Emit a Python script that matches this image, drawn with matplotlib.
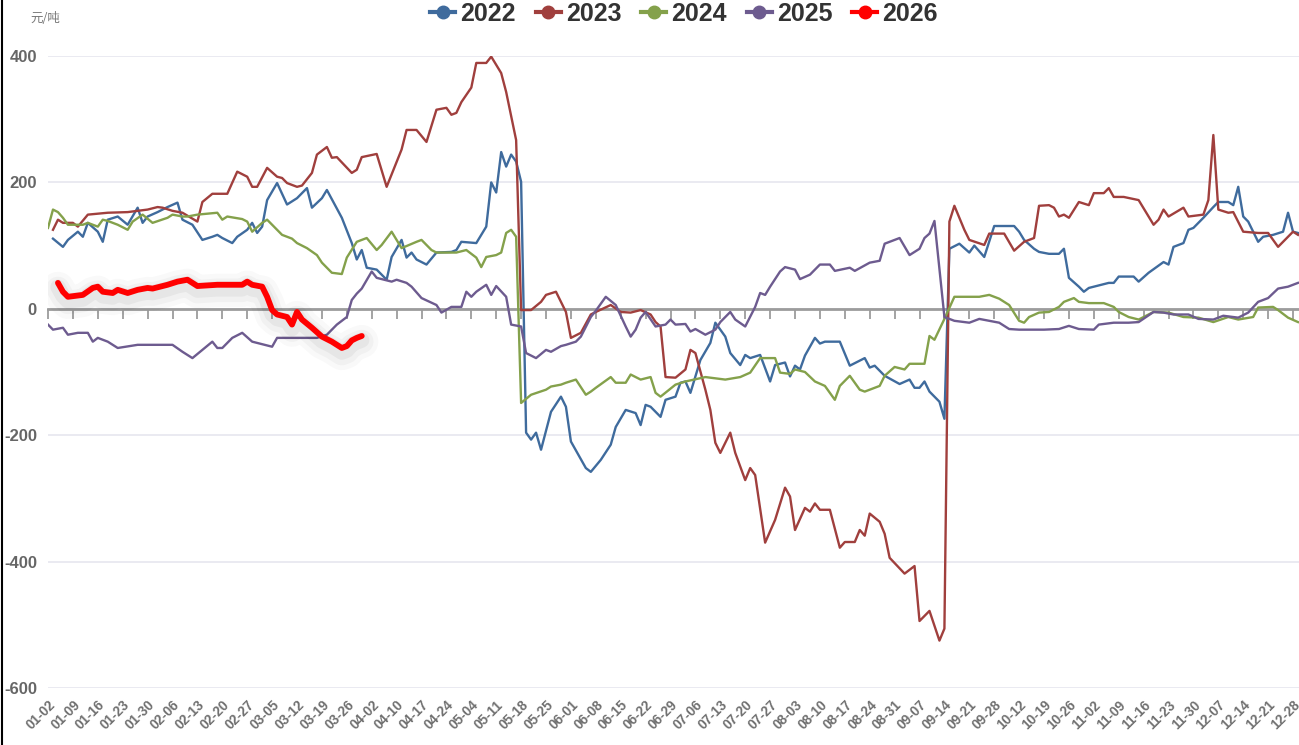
import matplotlib
matplotlib.use("Agg")
import matplotlib.pyplot as plt
from matplotlib.lines import Line2D
from matplotlib import patheffects as pe

plt.rcParams['font.family'] = ['Liberation Sans', 'Noto Sans CJK SC', 'DejaVu Sans']

# x axis: trading-day index, one label every 5 days
tick_labels = ["01-02", "01-09", "01-16", "01-23", "01-30", "02-06", "02-13", "02-20", "02-27",
               "03-05", "03-12", "03-19", "03-26", "04-02", "04-10", "04-17", "04-24", "05-04",
               "05-11", "05-18", "05-25", "06-01", "06-08", "06-15", "06-22", "06-29", "07-06",
               "07-13", "07-20", "07-27", "08-03", "08-10", "08-17", "08-24", "08-31", "09-07",
               "09-14", "09-21", "09-28", "10-12", "10-19", "10-26", "11-02", "11-09", "11-16",
               "11-23", "11-30", "12-07", "12-14", "12-21", "12-28"]
tick_step = 5

y_ticks = [-600, -400, -200, 0, 200, 400]
y_tick_labels = ["-600", "-400", "-200", "0", "200", "400"]

# 2022
d22_x = [1, 3, 4, 6, 7, 8, 10, 11, 12, 14, 16, 18, 19, 20, 22, 24, 26, 27, 29, 31, 33, 34, 35, 37, 38,
         40, 41, 42, 43, 44, 46, 48, 50, 52, 53, 55, 56, 59, 61, 62, 63, 64, 66, 68, 69, 71, 72, 73, 74,
         76, 78, 81, 82, 83, 86, 88, 89, 90, 91, 92, 93, 94, 95, 96, 97, 98, 99, 101, 103, 104, 105,
         108, 109, 111, 113, 114, 116, 118, 119, 120, 121, 123, 124, 126, 127, 128, 129, 131, 133, 134,
         136, 137, 139, 140, 141, 143, 145, 146, 148, 149, 150, 151, 152, 154, 155, 156, 159, 161, 164,
         165, 166, 168, 171, 173, 174, 175, 176, 177, 179, 180, 181, 183, 185, 186, 188, 190, 194, 195,
         196, 198, 199, 201, 203, 204, 205, 207, 208, 209, 213, 214, 215, 218, 219, 221, 224, 225, 226,
         228, 229, 230, 232, 234, 235, 237, 238, 239, 240, 241, 243, 244, 246, 248, 249, 250, 251]
d22_y = [111, 98, 109, 122, 114, 136, 122, 106, 141, 146, 133, 160, 136, 146, 153, 161, 168, 141, 133,
         109, 114, 117, 112, 104, 114, 125, 136, 120, 130, 172, 199, 165, 175, 191, 160, 175, 188, 144,
         104, 78, 93, 65, 62, 46, 82, 109, 81, 89, 78, 70, 89, 90, 93, 106, 104, 130, 200, 184, 248, 225,
         244, 233, 201, -196, -207, -196, -223, -163, -139, -155, -210, -252, -258, -239, -215, -187,
         -160, -165, -184, -152, -155, -171, -144, -139, -117, -115, -133, -81, -54, -22, -44, -70, -89,
         -73, -78, -73, -115, -89, -85, -107, -90, -96, -74, -46, -55, -52, -52, -90, -78, -93, -90,
         -106, -119, -112, -125, -125, -115, -131, -147, -174, 95, 103, 89, 100, 82, 131, 131, 122, 109,
         95, 90, 87, 87, 95, 49, 35, 27, 33, 41, 41, 51, 51, 43, 57, 74, 70, 98, 104, 125, 128, 144, 161,
         169, 169, 164, 193, 146, 138, 106, 114, 117, 122, 152, 122, 120]

# 2023
d23_x = [1, 2, 3, 5, 6, 8, 12, 16, 20, 22, 23, 25, 27, 30, 31, 33, 36, 38, 40, 41, 42, 44, 46, 47, 48,
         50, 51, 53, 54, 56, 57, 58, 61, 62, 63, 66, 68, 71, 72, 74, 76, 78, 80, 81, 82, 83, 85, 86, 88,
         89, 91, 92, 94, 95, 97, 99, 100, 102, 104, 105, 107, 109, 110, 113, 115, 117, 119, 121, 122,
         123, 124, 126, 128, 129, 130, 132, 133, 134, 135, 137, 138, 140, 141, 142, 144, 146, 148, 149,
         150, 152, 153, 154, 155, 157, 159, 160, 162, 163, 164, 165, 167, 168, 169, 172, 174, 175, 177,
         179, 180, 181, 182, 184, 185, 188, 189, 192, 194, 196, 198, 199, 201, 202, 203, 204, 205, 207,
         209, 210, 212, 213, 214, 216, 219, 222, 223, 224, 225, 228, 229, 232, 233, 234, 235, 237, 238,
         240, 243, 245, 247, 250, 251]
d23_y = [125, 141, 136, 136, 130, 149, 152, 153, 157, 161, 160, 155, 152, 138, 169, 182, 182, 217, 209,
         193, 193, 223, 209, 207, 199, 193, 195, 215, 244, 256, 239, 240, 215, 220, 240, 245, 193, 252,
         283, 283, 264, 315, 318, 307, 310, 327, 350, 389, 389, 399, 373, 343, 267, -2, -2, 11, 22, 27,
         -5, -46, -38, -9, -5, 6, -5, -6, -2, -9, -21, -28, -108, -109, -96, -65, -70, -128, -160, -212,
         -228, -196, -228, -271, -252, -263, -370, -334, -283, -297, -350, -315, -321, -308, -318, -318,
         -378, -369, -369, -350, -359, -324, -337, -356, -394, -419, -407, -494, -478, -525, -506, 138,
         163, 125, 109, 101, 119, 119, 92, 106, 112, 163, 164, 160, 146, 149, 144, 169, 164, 183, 183,
         191, 177, 177, 172, 133, 141, 157, 146, 160, 146, 149, 172, 275, 157, 152, 153, 122, 120, 120,
         98, 122, 117]

# 2024
d24_x = [0, 1, 2, 3, 4, 7, 8, 10, 11, 12, 14, 16, 17, 19, 21, 24, 25, 27, 28, 30, 34, 35, 36, 39, 40,
         41, 43, 44, 45, 47, 49, 50, 52, 54, 55, 57, 59, 60, 62, 64, 66, 67, 69, 70, 71, 74, 75, 77, 78,
         82, 84, 86, 87, 88, 90, 91, 92, 93, 94, 95, 97, 100, 101, 103, 104, 106, 108, 109, 110, 113,
         114, 116, 117, 119, 121, 122, 123, 126, 128, 132, 136, 139, 141, 143, 146, 147, 149, 150, 152,
         154, 156, 158, 159, 161, 163, 164, 167, 168, 170, 172, 173, 176, 177, 178, 180, 182, 184, 187,
         189, 191, 193, 195, 196, 197, 199, 201, 203, 204, 206, 207, 209, 212, 214, 215, 217, 219, 221,
         222, 225, 228, 231, 234, 237, 239, 242, 243, 246, 247, 249, 251]
d24_y = [128, 157, 153, 144, 133, 133, 136, 130, 141, 139, 133, 125, 138, 149, 136, 144, 149, 146, 146,
         149, 152, 141, 146, 142, 138, 122, 136, 141, 133, 117, 111, 104, 96, 85, 73, 57, 55, 81, 106,
         112, 93, 101, 122, 109, 96, 106, 109, 93, 89, 89, 93, 81, 66, 82, 85, 89, 120, 125, 114, -149,
         -136, -128, -123, -120, -117, -112, -136, -131, -125, -108, -117, -117, -104, -112, -108, -133,
         -139, -120, -115, -108, -112, -108, -101, -78, -78, -101, -103, -96, -100, -115, -122, -144,
         -122, -106, -128, -131, -122, -106, -92, -96, -87, -87, -43, -49, -16, 19, 19, 19, 22, 16, 6,
         -19, -22, -13, -6, -5, 3, 11, 17, 11, 9, 9, 3, -5, -13, -17, -9, -5, -6, -13, -14, -21, -13,
         -17, -13, 2, 3, -2, -14, -21]

# 2025
d25_x = [0, 1, 3, 4, 6, 8, 9, 10, 12, 14, 18, 25, 27, 29, 31, 33, 34, 35, 37, 39, 41, 45, 46, 50, 54,
         56, 58, 60, 61, 62, 63, 65, 66, 69, 70, 72, 73, 75, 78, 79, 81, 83, 84, 85, 86, 88, 89, 90, 92,
         93, 95, 96, 98, 100, 101, 103, 104, 106, 107, 109, 110, 112, 114, 116, 117, 118, 119, 120, 122,
         124, 125, 126, 128, 129, 130, 132, 134, 135, 137, 138, 140, 142, 143, 144, 145, 147, 148, 150,
         151, 153, 155, 157, 158, 161, 162, 165, 167, 168, 171, 173, 175, 176, 177, 178, 180, 182, 185,
         187, 191, 193, 195, 200, 203, 205, 207, 210, 211, 214, 217, 219, 222, 224, 226, 229, 231, 234,
         236, 239, 241, 243, 245, 247, 249, 251]
d25_y = [-25, -33, -30, -41, -38, -38, -52, -46, -52, -62, -57, -57, -68, -78, -65, -52, -62, -62, -46,
         -38, -52, -60, -46, -46, -46, -41, -25, -13, 14, 24, 32, 59, 49, 43, 46, 41, 35, 17, 6, -6, 3,
         3, 27, 19, 27, 38, 22, 36, 19, -25, -28, -70, -78, -65, -68, -59, -57, -52, -44, -13, -3, 19,
         6, -28, -44, -33, -14, -5, -28, -25, -17, -25, -24, -36, -32, -41, -33, -21, -5, -17, -28, 3,
         25, 22, 35, 59, 66, 62, 47, 54, 70, 70, 60, 65, 60, 73, 76, 103, 112, 85, 95, 112, 119, 139,
         -13, -19, -22, -16, -22, -32, -33, -33, -32, -27, -32, -33, -25, -22, -22, -21, -5, -6, -9, -9,
         -16, -17, -11, -14, -6, 11, 17, 32, 35, 41]

# 2026
d26_x = [2, 3, 4, 7, 9, 10, 11, 13, 14, 16, 18, 20, 21, 24, 26, 28, 29, 30, 34, 39, 40, 41, 43, 44,
         45, 46, 48, 49, 50, 51, 53, 55, 57, 59, 60, 61, 62, 63]
d26_y = [41, 27, 19, 22, 33, 35, 27, 25, 30, 25, 30, 33, 32, 38, 43, 46, 41, 36, 38, 38, 43, 38, 35, 19,
         -2, -9, -13, -25, -5, -17, -30, -44, -52, -62, -59, -50, -46, -43]

series = [
    ("2022", d22_x, d22_y, "#3f6b9d"),
    ("2023", d23_x, d23_y, "#a03f3d"),
    ("2024", d24_x, d24_y, "#84a14b"),
    ("2025", d25_x, d25_y, "#6d5b8f"),
]

W, H = 1299, 745
fig = plt.figure(figsize=(W / 100, H / 100), dpi=100)
ax = fig.add_axes([48 / W, (H - 688) / H, 1 - 48 / W, (688 - 56) / H])

for name, xs, ys, col in series:
    ax.plot(xs, ys, color=col, lw=1.7, solid_joinstyle='round', zorder=3)

# soft glow under the current year
shadow = [pe.SimpleLineShadow(offset=(0, -4), shadow_color='black', alpha=0.025, linewidth=24),
          pe.SimpleLineShadow(offset=(0, -4), shadow_color='black', alpha=0.03, linewidth=17),
          pe.SimpleLineShadow(offset=(0, -3), shadow_color='black', alpha=0.045, linewidth=11),
          pe.Normal()]
ax.plot(d26_x, d26_y, color="#ff0000", lw=4.2, solid_joinstyle='round', solid_capstyle='round',
        zorder=4, path_effects=shadow)

n_days = (len(tick_labels) - 1) * tick_step
ax.set_xlim(0, n_days + 1.2)
ax.set_ylim(-600, 400)

# y axis
ax.set_yticks(y_ticks)
ax.set_yticklabels(y_tick_labels, fontsize=12, fontweight='bold', color='#666666')
ax.tick_params(axis='y', length=0, pad=8)
ax.yaxis.grid(True, color='#e8e8f0', lw=1.3)
ax.set_axisbelow(True)

for s in ['top', 'right', 'left']:
    ax.spines[s].set_visible(False)

# zero line with tick marks
tick_pos = list(range(0, n_days + 1, tick_step))
ax.spines['bottom'].set_position(('data', 0))
ax.spines['bottom'].set_color('#9c9c9c')
ax.spines['bottom'].set_linewidth(2)
ax.spines['bottom'].set_zorder(2)
ax.set_xticks(tick_pos)
ax.tick_params(axis='x', length=7, width=1.3, color='#9c9c9c', direction='out', labelbottom=False)

# date labels at the bottom of the plot
sec = ax.secondary_xaxis('bottom')
sec.set_xticks(tick_pos)
sec.set_xticklabels(tick_labels, rotation=45, ha='right', rotation_mode='anchor',
                    fontsize=9.8, fontweight='bold', color='#707070')
sec.tick_params(length=0, pad=7)
sec.spines['bottom'].set_visible(False)

# unit
fig.text(30 / W, 1 - 18 / H, "元/吨", fontsize=9, color='#777777', va='center',
         family=['Noto Sans CJK SC', 'DejaVu Sans'])

# legend
handles = [Line2D([], [], color=c, lw=3, marker='o', ms=9) for _, _, _, c in series]
handles.append(Line2D([], [], color="#ff0000", lw=3, marker='o', ms=9))
names = [s[0] for s in series] + ["2026"]
fig.legend(handles, names, loc='center', bbox_to_anchor=(684 / W, 1 - 14 / H), ncol=5,
           frameon=False, prop=dict(weight='bold', size=18),
           labelcolor='#333333', handlelength=1.0, handletextpad=0.2, columnspacing=0.8)

# left frame line
fig.add_artist(Line2D([0.0015, 0.0015], [0, 1], color='black', lw=1.5, transform=fig.transFigure))

fig.savefig("out.png", dpi=100)
